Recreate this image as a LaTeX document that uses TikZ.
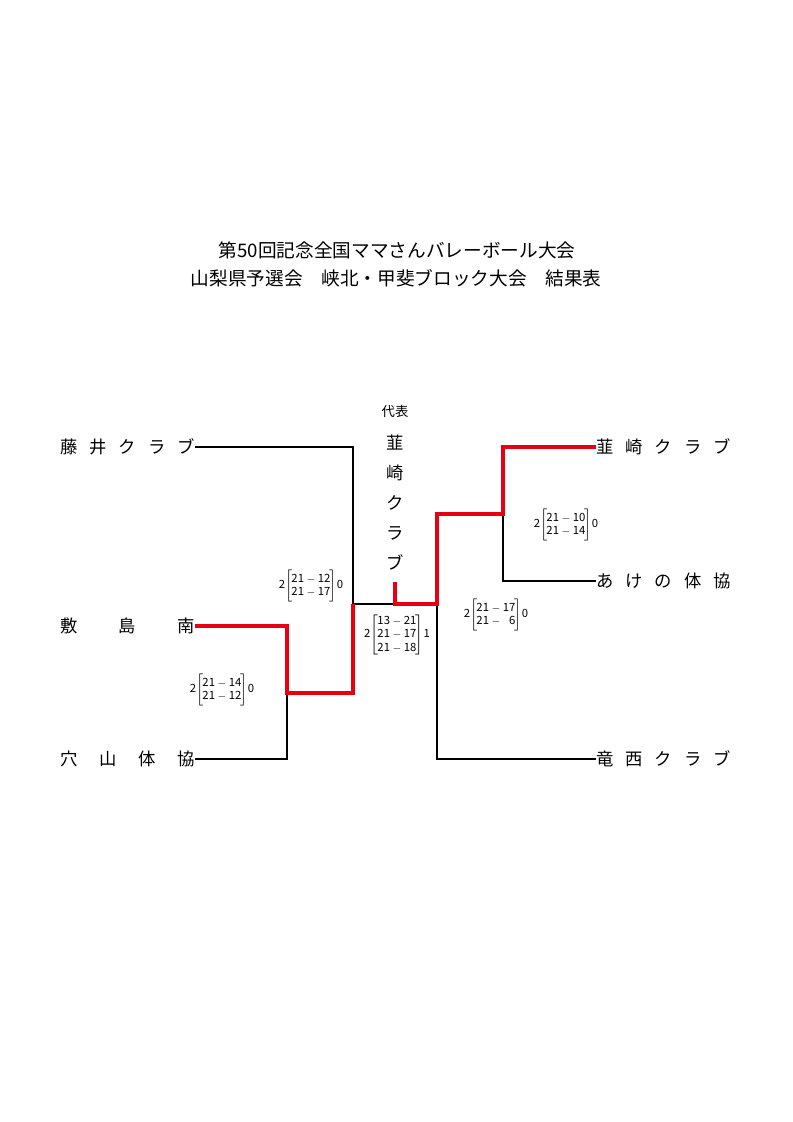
\documentclass[tikz,border=0pt]{standalone}
\usepackage{fontspec}
\setmainfont{Noto Sans CJK JP}
\usepackage{tikz}
\definecolor{winred}{RGB}{230,0,18}
\newcommand{\scorebox}[3]{#1$\left[\kern-0.5pt\vcenter{\hbox{\begin{tabular}{@{}r@{\ $-$\ }r@{}}#2\end{tabular}}}\kern-0.5pt\right]$#3}
\newcommand{\teamname}[1]{\makebox[101pt]{#1}}

\begin{document}
\begin{tikzpicture}[x=0.75pt, y=-0.75pt,
    team/.style={inner sep=0pt, font=\fontsize{13}{14}\selectfont},
    score/.style={inner sep=0pt, font=\fontsize{8.5}{10}\selectfont},
    lose/.style={line width=1.7pt, black},
    win/.style={line width=2.6pt, winred}]
                \useasboundingbox (0,0) rectangle (793,1122);
                % Title
                \node[font=\fontsize{14}{16}\selectfont] (title1) at (397,250) {第50回記念全国ママさんバレーボール大会};
                \node[font=\fontsize{14}{16}\selectfont] (title2) at (396,278) {山梨県予選会　峡北・甲斐ブロック大会　結果表};
                % Left teams
                \node[team, anchor=east] (fujii) at (195,447) {\teamname{藤\hfill 井\hfill ク\hfill ラ\hfill ブ}};
                \node[team, anchor=east] (shikishima) at (195,626) {\teamname{敷\hfill 島\hfill 南}};
                \node[team, anchor=east] (anayama) at (195,759) {\teamname{穴\hfill 山\hfill 体\hfill 協}};
                % Right teams
                \node[team, anchor=west] (nirasaki) at (596,447) {\teamname{韮\hfill 崎\hfill ク\hfill ラ\hfill ブ}};
                \node[team, anchor=west] (akeno) at (596,581) {\teamname{あ\hfill け\hfill の\hfill 体\hfill 協}};
                \node[team, anchor=west] (ryuo) at (596,759) {\teamname{竜\hfill 西\hfill ク\hfill ラ\hfill ブ}};
                % Representative
                \node[inner sep=0pt, font=\fontsize{10}{12}\selectfont] (rep) at (395,411) {代表};
                \node[team, align=center, font=\fontsize{13}{22.5}\selectfont] (champion) at (395,503) {韮\\崎\\ク\\ラ\\ブ};
                % Junctions
                \coordinate (q1) at (287,693);
                \coordinate (s1) at (353,604);
                \coordinate (final) at (395,604);
                \coordinate (champ) at (395,582);
                \coordinate (s2) at (437,604);
                \coordinate (q2) at (503,514);
                % Losing lines
                \draw[lose] (fujii.east) -| (s1) -- (final);
                \draw[lose] (anayama.east) -| (q1);
                \draw[lose] (akeno.west) -| (q2);
                \draw[lose] (ryuo.west) -| (s2);
                % Winning lines
                \draw[win] (shikishima.east) -| (q1) -| (s1);
                \draw[win] (champ) |- (s2) |- (q2) |- (nirasaki.west);
                % Scores
                \node[score] (scoreL1) at (311,586) {\scorebox{2}{21&12\\21&17}{0}};
                \node[score] (scoreL2) at (222,690) {\scorebox{2}{21&14\\21&12}{0}};
                \node[score] (scoreR1) at (566,525) {\scorebox{2}{21&10\\21&14}{0}};
                \node[score] (scoreR2) at (496,615) {\scorebox{2}{21&17\\21&6}{0}};
                \node[score] (scoreF) at (397,635) {\scorebox{2}{13&21\\21&17\\21&18}{1}};
\end{tikzpicture}
\end{document}
